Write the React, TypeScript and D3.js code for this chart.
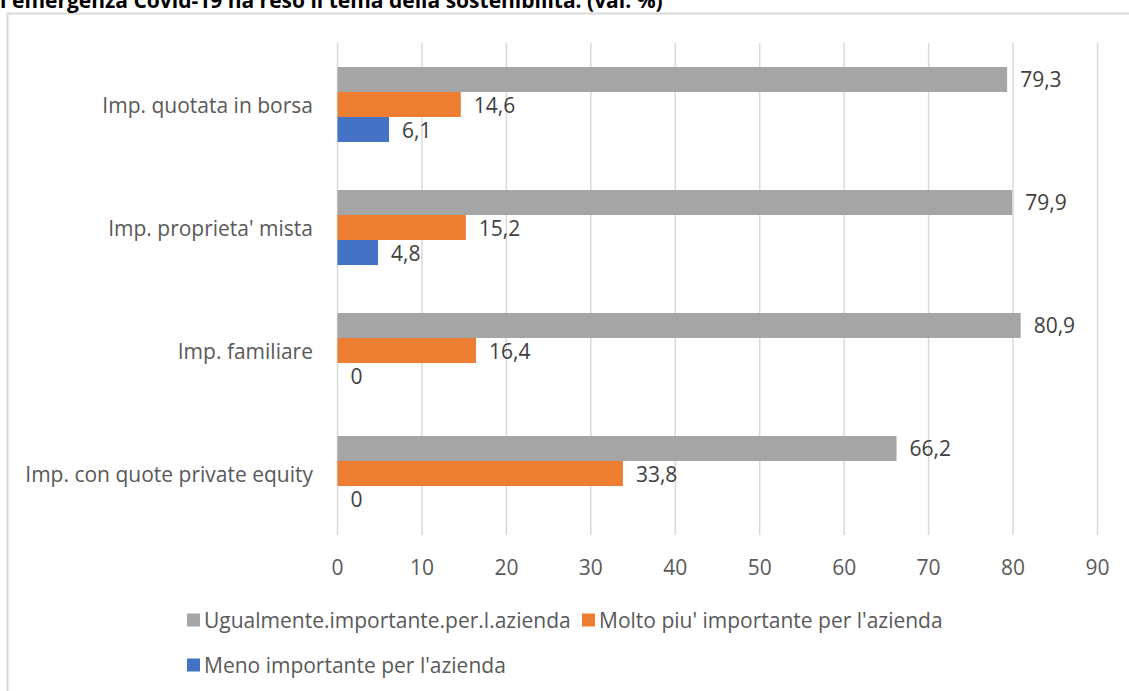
import { useEffect, useRef } from "react";
import * as d3 from "d3";

const W = 1129;
const H = 691;
const FONT = "'Open Sans', sans-serif";
const FS = 21;

const TITLE = "l'emergenza Covid-19 ha reso il tema della sostenibilità: (val. %)";
const categories = [
  "Imp. quotata in borsa",
  "Imp. proprieta' mista",
  "Imp. familiare",
  "Imp. con quote private equity",
];
const seriesNames = [
  "Ugualmente.importante.per.l.azienda",
  "Molto piu' importante per l'azienda",
  "Meno importante per l'azienda",
];
const seriesColors = ["#A5A5A5", "#ED7D31", "#4472C4"];
const uguale = [79.3, 79.9, 80.9, 66.2];
const moltoPiu = [14.6, 15.2, 16.4, 33.8];
const meno = [6.1, 4.8, 0, 0];
const xTicks = [0, 10, 20, 30, 40, 50, 60, 70, 80, 90];

const PLOT = { left: 337.5, right: 1097.5, top: 43, bottom: 535 };

export default function App() {
  const svgRef = useRef<SVGSVGElement>(null);

  useEffect(() => {
    if (!svgRef.current) return;
    const svg = d3.select(svgRef.current);
    svg.selectAll("*").remove();

    const values = [uguale, moltoPiu, meno];

    const x = d3.scaleLinear().domain([0, 90]).range([PLOT.left, PLOT.right]);
    const y = d3.scaleBand<string>()
      .domain(categories)
      .range([PLOT.top, PLOT.bottom])
      .paddingInner(0.39)
      .paddingOuter(0.195);
    const inner = d3.scaleBand<number>()
      .domain([0, 1, 2])
      .range([0, y.bandwidth()]);

    svg.append("rect").attr("width", W).attr("height", H).attr("fill", "#fff");

    // chart area border (runs off the picture to the right and bottom)
    svg.append("rect")
      .attr("x", 7.5)
      .attr("y", 13.5)
      .attr("width", 1300)
      .attr("height", 900)
      .attr("fill", "none")
      .attr("stroke", "#D9D9D9")
      .attr("stroke-width", 2);

    // title, cut at the top as in the source
    svg.append("text")
      .attr("x", 0)
      .attr("y", 8)
      .attr("font-family", FONT)
      .attr("font-weight", "bold")
      .attr("font-size", 21)
      .attr("fill", "#000")
      .text(TITLE);

    // gridlines
    svg.append("g")
      .selectAll("line")
      .data(xTicks)
      .join("line")
      .attr("x1", (d) => x(d))
      .attr("x2", (d) => x(d))
      .attr("y1", PLOT.top)
      .attr("y2", PLOT.bottom)
      .attr("stroke", "#D9D9D9")
      .attr("stroke-width", 1.5);

    // x tick labels
    svg.append("g")
      .selectAll("text")
      .data(xTicks)
      .join("text")
      .attr("x", (d) => x(d))
      .attr("y", PLOT.bottom + 32)
      .attr("text-anchor", "middle")
      .attr("dominant-baseline", "central")
      .attr("font-family", FONT)
      .attr("font-size", FS)
      .attr("fill", "#595959")
      .text((d) => d);

    // category labels
    svg.append("g")
      .selectAll("text")
      .data(categories)
      .join("text")
      .attr("x", 313)
      .attr("y", (d) => (y(d) ?? 0) + y.bandwidth() / 2)
      .attr("text-anchor", "end")
      .attr("dominant-baseline", "central")
      .attr("font-family", FONT)
      .attr("font-size", FS)
      .attr("fill", "#595959")
      .text((d) => d);

    // bars + labels
    values.forEach((vals, si) => {
      const g = svg.append("g");
      g.selectAll("rect")
        .data(vals)
        .join("rect")
        .attr("x", x(0))
        .attr("y", (_, i) => (y(categories[i]) ?? 0) + (inner(si) ?? 0))
        .attr("width", (d) => x(d) - x(0))
        .attr("height", inner.bandwidth())
        .attr("fill", seriesColors[si]);

      g.selectAll("text")
        .data(vals)
        .join("text")
        .attr("x", (d) => x(d) + 13)
        .attr("y", (_, i) => (y(categories[i]) ?? 0) + (inner(si) ?? 0) + inner.bandwidth() / 2)
        .attr("dominant-baseline", "central")
        .attr("font-family", FONT)
        .attr("font-size", FS)
        .attr("fill", "#404040")
        .text((d) => d3.format(".1f")(d).replace(".", ",").replace(/,0$/, ""));
    });

    // legend
    const legendItems = [
      { x: 187, y: 620, i: 0 },
      { x: 582, y: 620, i: 1 },
      { x: 187, y: 665, i: 2 },
    ];
    const lg = svg.append("g");
    legendItems.forEach(({ x: lx, y: ly, i }) => {
      lg.append("rect")
        .attr("x", lx)
        .attr("y", ly - 6.5)
        .attr("width", 13)
        .attr("height", 13)
        .attr("fill", seriesColors[i]);
      lg.append("text")
        .attr("x", lx + 17)
        .attr("y", ly)
        .attr("dominant-baseline", "central")
        .attr("font-family", FONT)
        .attr("font-size", FS)
        .attr("fill", "#595959")
        .text(seriesNames[i]);
    });
  }, []);

  return (
    <div style={{ position: "fixed", left: 0, top: 0 }}>
      <svg ref={svgRef} width={W} height={H} style={{ display: "block" }} />
    </div>
  );
}
